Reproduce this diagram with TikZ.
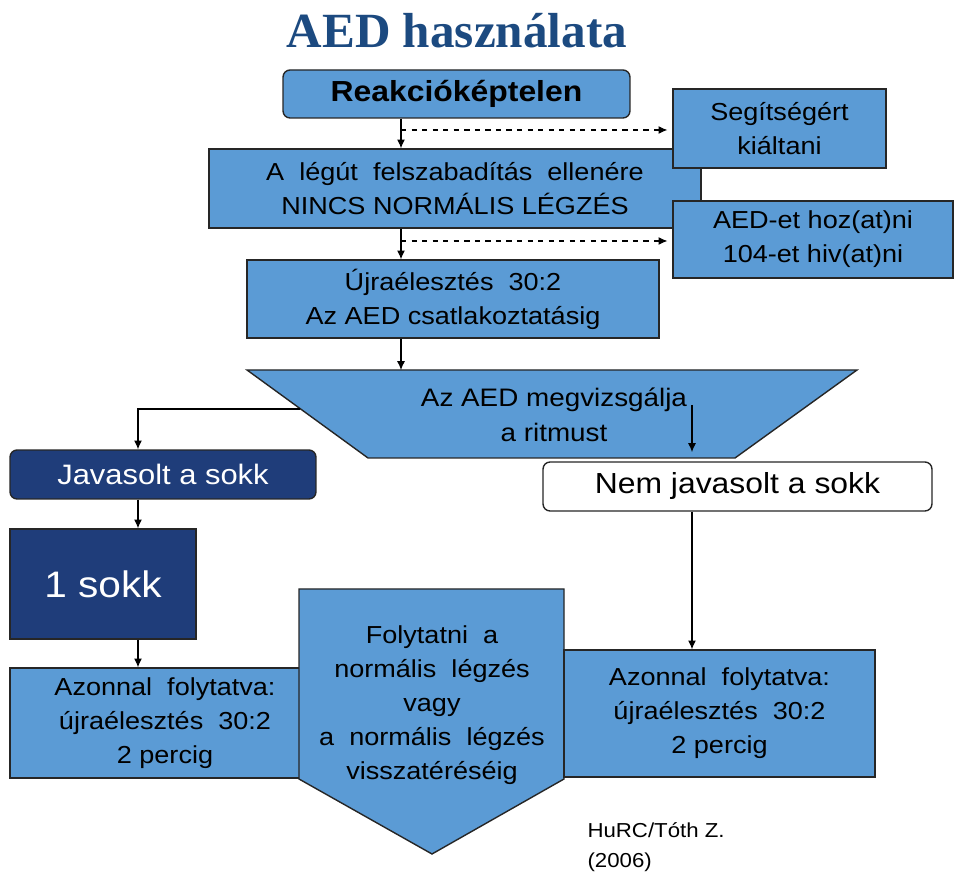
\documentclass[tikz,border=0pt]{standalone}
\usepackage{fontspec}
\setmainfont{Liberation Sans}[FakeStretch=1.1]
\newfontfamily\widefont{Liberation Sans}[FakeStretch=1.1,WordSpace=2]
\newfontfamily\titlefont{Liberation Serif}
\usetikzlibrary{arrows.meta}

\definecolor{boxblue}{RGB}{91,155,213}
\definecolor{darkblue}{RGB}{31,61,122}
\definecolor{titleblue}{RGB}{28,74,128}
\newcommand{\ws}[1]{{\widefont #1}}

\begin{document}
\begin{tikzpicture}[
        > = {Latex[length=5pt,width=4.5pt]}, % arrow head style
        x = 0.02cm, y = -0.02cm, % one unit = one pixel of the slide
        semithick % line style
    ]

    \tikzstyle{every node}=[
    inner sep = 0pt,
    align = center,
    font = \fontsize{14}{19.3}\selectfont
    ]
    \tikzstyle{box}=[draw = black!85, line width = 0.8pt, fill = boxblue]
    \tikzstyle{darkbox}=[box, fill = darkblue, text = white]
    \tikzstyle{roundbox}=[rounded corners = 4pt]

    \useasboundingbox (0,0) rectangle (954,874);

    \node[font = \titlefont\bfseries\fontsize{28}{32}\selectfont, text = titleblue] (title) at (457,31) {AED használata};

    % top column
    \node[box, roundbox, minimum width = 6.94cm, minimum height = 0.96cm, font = \bfseries\fontsize{16.5}{20}\selectfont] (reak) at (456.5,94) {Reakcióképtelen};
    \node[box, minimum width = 9.84cm, minimum height = 1.58cm] (legut) at (455,188.5) {\ws{A légút felszabadítás ellenére}\\NINCS NORMÁLIS LÉGZÉS};
    \node[box, minimum width = 4.26cm, minimum height = 1.58cm] (seg) at (779.5,128.5) {Segítségért\\kiáltani};
    \node[box, minimum width = 5.60cm, minimum height = 1.54cm] (aedhoz) at (813,239.5) {AED-et hoz(at)ni\\104-et hiv(at)ni};
    \node[box, minimum width = 8.24cm, minimum height = 1.56cm] (ujra) at (453,299) {\ws{Újraélesztés 30:2}\\Az AED csatlakoztatásig};

    % rhythm check
    \coordinate (tl) at (247,370);
    \coordinate (tr) at (857,370);
    \coordinate (br) at (735,458);
    \coordinate (bl) at (368,458);
    \draw[box] (tl) -- (tr) -- (br) -- (bl) -- cycle;
    \node[font = \fontsize{14.4}{19.8}\selectfont] (vizsg) at (554,415) {Az AED megvizsgálja\\a ritmust};

    % shock / no shock
    \node[darkbox, roundbox, minimum width = 6.12cm, minimum height = 0.98cm, font = \fontsize{16}{19}\selectfont] (jav) at (163,474.5) {Javasolt a sokk};
    \node[box, roundbox, fill = white, minimum width = 7.78cm, minimum height = 0.98cm, font = \fontsize{16.5}{19}\selectfont] (nem) at (737.5,486.5) {Nem javasolt a sokk};
    \node[darkbox, minimum width = 3.72cm, minimum height = 2.2cm, font = \fontsize{21}{24}\selectfont] (sokk) at (103,584) {1 sokk};

    % bottom row
    \node[box, minimum width = 6.2cm, minimum height = 2.2cm] (azl) at (165,723) {\ws{Azonnal folytatva:}\\\ws{újraélesztés 30:2}\\2 percig};
    \draw[box] (299,589) -- (564,589) -- (564,779) -- (432,854) -- (299,779) -- cycle;
    \node (folyt) at (432,705) {\ws{Folytatni a}\\\ws{normális légzés}\\vagy\\\ws{a normális légzés}\\visszatéréséig};
    \node[box, minimum width = 6.22cm, minimum height = 2.54cm] (azr) at (719.5,713.5) {\ws{Azonnal folytatva:}\\\ws{újraélesztés 30:2}\\2 percig};

    \node[anchor = west, align = left, font = \fontsize{11.5}{17}\selectfont] (cite) at (587,847) {HuRC/Tóth Z.\\(2006)};

    % connectors
    \coordinate (d1) at (401,130);
    \coordinate (d2) at (401,241);
    \coordinate (trleft) at (300,409);
    \coordinate (ls) at (138,409);
    \coordinate (rs) at (692,405);

    \draw[->] (reak.south -| d1) -- (legut.north -| d1);
    \draw[->, dashed, shorten > = 2.8pt] (d1) -- (seg.west |- d1);
    \draw[->] (legut.south -| d2) -- (ujra.north -| d2);
    \draw[->, dashed, shorten > = 2.8pt] (d2) -- (aedhoz.west |- d2);
    \draw[->] (ujra.south -| d2) -- (tl -| d2);

    \draw[->] (trleft) -- (ls) -- (jav.north -| ls);
    \draw[->] (jav.south -| ls) -- (sokk.north -| ls);
    \draw[->] (sokk.south -| ls) -- (azl.north -| ls);

    \draw[->, shorten > = 3.4pt] (rs) -- (rs |- br);
    \draw[->] (nem.south -| rs) -- (azr.north -| rs);
\end{tikzpicture}
\end{document}
